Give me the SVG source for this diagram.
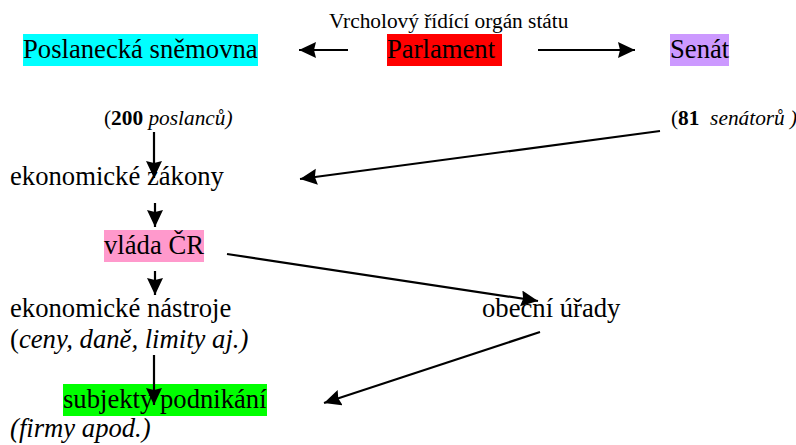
<svg xmlns="http://www.w3.org/2000/svg" width="796" height="445" viewBox="0 0 796 445">
<style>
text { font-family: "Liberation Serif", "Times New Roman", serif; fill: #000; }
.big { font-size: 26.67px; }
.small { font-size: 21.33px; }
.it { font-style: italic; }
.b { font-weight: bold; }
.conn line { stroke: #000; stroke-width: 2.2; marker-end: url(#ah); }
</style>
<defs>
<marker id="ah" markerUnits="userSpaceOnUse" markerWidth="20" markerHeight="18" refX="17" refY="8" orient="auto">
<path d="M0,0 L17,8 L0,16 L2,8 z" fill="#000"/>
</marker>
</defs>
<rect width="796" height="445" fill="#fff"/>
<g id="title"><text class="small" x="329" y="28">Vrcholový řídící orgán státu</text></g>
<g id="poslanecka"><rect x="23" y="34" width="235" height="32" fill="#00FFFF"/><text class="big" x="23" y="58">Poslanecká sněmovna</text></g>
<g id="parlament"><rect x="387" y="34" width="115" height="32" fill="#FF0000"/><text class="big" x="387" y="58">Parlament</text></g>
<g id="senat"><rect x="670" y="34" width="59" height="32" fill="#CC99FF"/><text class="big" x="670" y="58">Senát</text></g>
<g id="poslanci"><text class="small" x="104" y="125">(<tspan class="b">200</tspan><tspan class="it"> poslanců)</tspan></text></g>
<g id="senatori"><text class="small" x="671" y="125" xml:space="preserve">(<tspan class="b">81</tspan>  <tspan class="it">senátorů )</tspan></text></g>
<g id="zakony"><text class="big" x="10" y="185">ekonomické zákony</text></g>
<g id="vlada"><rect x="104" y="230" width="100" height="32" fill="#FF99CC"/><text class="big" x="104" y="254">vláda ČR</text></g>
<g id="nastroje"><text class="big" x="10" y="317">ekonomické nástroje</text><text class="big" x="10" y="348">(<tspan class="it">ceny, daně, limity aj.)</tspan></text></g>
<g id="urady"><text class="big" x="482" y="317">obecní úřady</text></g>
<g id="subjekty"><rect x="63" y="384" width="204" height="32" fill="#00FF00"/><text class="big" x="63" y="408">subjekty podnikání</text><text class="big it" x="10" y="437">(firmy apod.)</text></g>
<g id="connectors" class="conn">
<line x1="348" y1="50" x2="299" y2="50"/>
<line x1="538" y1="50" x2="635" y2="50"/>
<line x1="154" y1="132" x2="154" y2="178"/>
<line x1="660" y1="131" x2="300" y2="179"/>
<line x1="155" y1="203" x2="155" y2="227"/>
<line x1="155" y1="271" x2="155" y2="295"/>
<line x1="227" y1="254" x2="538" y2="301"/>
<line x1="154" y1="355" x2="154" y2="405"/>
<line x1="540" y1="332" x2="324" y2="403"/>
</g>
</svg>
